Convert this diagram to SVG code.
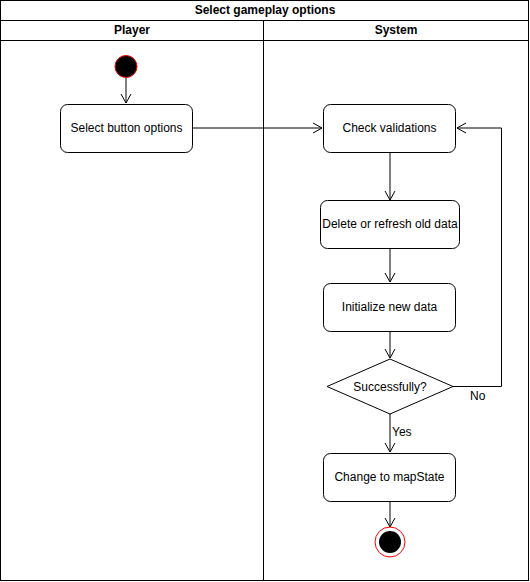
<svg xmlns="http://www.w3.org/2000/svg" width="530" height="582" viewBox="0 0 530 582">
<style>
text{font-family:"Liberation Sans",Arial,sans-serif;font-size:12px;fill:#000}
.b{font-weight:bold}
.n{fill:#fff;stroke:#000;stroke-width:1}
.c{fill:none;stroke:#000;stroke-width:1}
.lane{fill:none;stroke:#000;stroke-width:1}
</style>
<defs>
<marker id="a" markerWidth="12" markerHeight="12" refX="10" refY="6" orient="auto" markerUnits="userSpaceOnUse">
<path d="M1,1 L10,6 L1,11" fill="none" stroke="#000" stroke-width="1"/>
</marker>
</defs>
<g id="pool">
<rect class="lane" x="0.5" y="0.5" width="528" height="580" fill="#fff"/>
<line class="lane" x1="0.5" y1="20.5" x2="528.5" y2="20.5"/>
<line class="lane" x1="0.5" y1="40.5" x2="528.5" y2="40.5"/>
<line class="lane" x1="263.5" y1="20.5" x2="263.5" y2="580.5"/>
<text class="b" x="265" y="14" text-anchor="middle">Select gameplay options</text>
<text class="b" x="132" y="34" text-anchor="middle">Player</text>
<text class="b" x="396" y="34" text-anchor="middle">System</text>
</g>
<g id="connectors">
<path class="c" d="M126,77 V103" marker-end="url(#a)"/>
<path class="c" d="M193,128 H322" marker-end="url(#a)"/>
<path class="c" d="M390,152 V200" marker-end="url(#a)"/>
<path class="c" d="M390,248 V282" marker-end="url(#a)"/>
<path class="c" d="M390,331 V358" marker-end="url(#a)"/>
<path class="c" d="M453,386.5 H501.5 V128 H457" marker-end="url(#a)"/>
<path class="c" d="M390,414 V452" marker-end="url(#a)"/>
<path class="c" d="M390,501 V527" marker-end="url(#a)"/>
<text x="470" y="400">No</text>
<text x="392" y="436">Yes</text>
</g>
<g id="start"><circle cx="126" cy="66.5" r="11" fill="#000" stroke="#ff0000" stroke-width="1"/></g>
<g id="select"><rect class="n" x="60.5" y="104.5" width="132" height="48" rx="7"/><text x="126.5" y="132" text-anchor="middle">Select button options</text></g>
<g id="check"><rect class="n" x="323.5" y="104.5" width="132" height="48" rx="7"/><text x="389.5" y="132" text-anchor="middle">Check validations</text></g>
<g id="delete"><rect class="n" x="320.5" y="200.5" width="139" height="48" rx="7"/><text x="390" y="228" text-anchor="middle">Delete or refresh old data</text></g>
<g id="init"><rect class="n" x="323.5" y="283.5" width="132" height="48" rx="7"/><text x="389.5" y="311" text-anchor="middle">Initialize new data</text></g>
<g id="decision"><path class="n" d="M390,359 L453,386.5 L390,414 L327,386.5 Z"/><text x="390" y="391" text-anchor="middle">Successfully?</text></g>
<g id="change"><rect class="n" x="323.5" y="453.5" width="132" height="48" rx="7"/><text x="389.5" y="481" text-anchor="middle">Change to mapState</text></g>
<g id="end"><circle cx="390" cy="542" r="15" fill="#fff" stroke="#ff0000" stroke-width="1"/><circle cx="390" cy="542" r="11" fill="#000"/></g>
</svg>
